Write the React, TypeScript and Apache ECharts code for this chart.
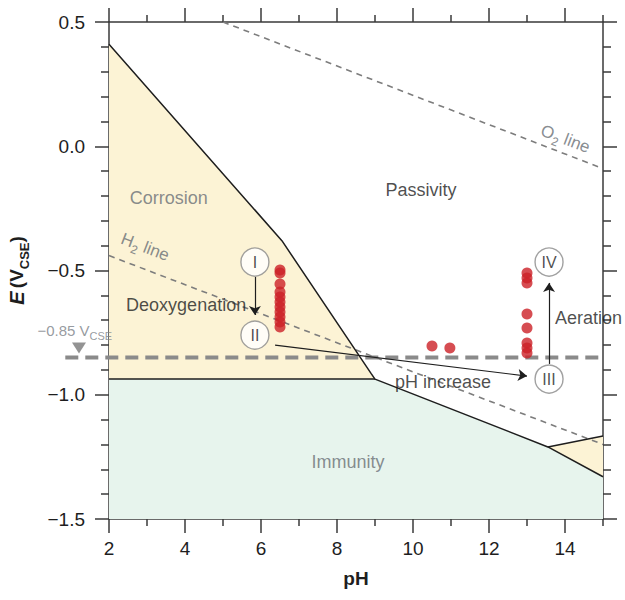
import React, { useEffect, useRef } from 'react';
import * as echarts from 'echarts';

// ---- axis ticks ----
const xMajorTicks = [2, 4, 6, 8, 10, 12, 14];
const xMinorTicks = [3, 5, 7, 9, 11, 13, 15];

// ---- stability regions (pH, E) ----
const corrosionRegion = [[2, 0.41], [6.55, -0.38], [8.9, -0.915], [9.0, -0.937], [2, -0.937]];
const immunityRegion = [[2, -0.937], [9.0, -0.937], [13.55, -1.21], [15, -1.33], [15, -1.5], [2, -1.5]];
const alkalineCorrosionRegion = [[13.55, -1.21], [15, -1.166], [15, -1.33]];

// ---- boundary lines ----
const boundaryLine = [[2, 0.41], [6.55, -0.38], [8.9, -0.915], [9.0, -0.937], [13.55, -1.21], [15, -1.33]];
const immunityTopLine = [[2, -0.937], [9.0, -0.937]];
const alkalineLine = [[13.55, -1.21], [15, -1.166]];

// ---- water lines ----
const o2Line = [[5.0, 0.5], [15, -0.09]];
const h2Line = [[2, -0.44], [15, -1.2]];

// ---- protection criterion ----
const protectionLine = [[0.85, -0.85], [15, -0.85]];
const protectionMarker = [[1.21, -0.812]];

// ---- measured points ----
const dotsAtPH65 = [-0.498, -0.51, -0.554, -0.587, -0.607, -0.627, -0.647, -0.667, -0.687, -0.707, -0.727];
const dotsAtPH13 = [-0.51, -0.53, -0.55, -0.675, -0.731, -0.792, -0.812, -0.832];
const dotsMid = [[10.5, -0.804], [10.97, -0.812]];

// ---- states ----
const stateNames = ['I', 'II', 'III', 'IV'];
const statePH = [5.84, 5.84, 13.58, 13.58];
const stateE = [-0.466, -0.76, -0.937, -0.466];

// ---- transitions ----
const arrowPaths = [
  [[5.84, -0.526], [5.84, -0.679]],
  [[6.37, -0.8], [13.0, -0.925]],
  [[13.58, -0.876], [13.58, -0.55]],
];

// ---- annotations ----
const darkLabels = ['Passivity', 'Deoxygenation', 'Aeration', 'pH increase'];
const darkLabelPH = [10.21, 4.03, 14.62, 10.79];
const darkLabelE = [-0.176, -0.639, -0.691, -0.949];
const greyLabels = ['Corrosion', 'Immunity'];
const greyLabelPH = [3.57, 8.29];
const greyLabelE = [-0.208, -1.271];

const FONT = 'Liberation Sans, Arial, Helvetica, sans-serif';
const AXIS = '#3a3a3a';
const GREY_TEXT = '#6a6f75';
const DARK_TEXT = '#1e1e1e';
const YELLOW = '#fcf3d5';
const GREEN = '#e7f4ed';

function polygonSeries(region: number[][], fill: string) {
  return {
    type: 'custom',
    coordinateSystem: 'cartesian2d',
    xAxisIndex: 0,
    yAxisIndex: 0,
    silent: true,
    z: 1,
    data: [region[0]],
    renderItem: (_p: any, api: any) => ({
      type: 'polygon',
      shape: { points: region.map((pt) => api.coord(pt)) },
      style: { fill },
    }),
  };
}

function solidLine(data: number[][]) {
  return {
    type: 'line',
    data,
    symbol: 'none',
    silent: true,
    z: 4,
    lineStyle: { color: '#1e1e1e', width: 1.5 },
  };
}

function textSeries(texts: string[], ph: number[], e: number[], color: string) {
  return {
    type: 'scatter',
    silent: true,
    z: 6,
    symbolSize: 1,
    itemStyle: { color: 'rgba(0,0,0,0)' },
    data: texts.map((t, i) => ({ value: [ph[i], e[i]], name: t })),
    label: {
      show: true,
      position: 'inside',
      formatter: (p: any) => p.name,
      color,
      fontSize: 18,
      fontFamily: FONT,
    },
  };
}

function rotatedLabel(formatter: string, ph: number, e: number) {
  return {
    type: 'scatter',
    silent: true,
    z: 6,
    symbolSize: 1,
    itemStyle: { color: 'rgba(0,0,0,0)' },
    data: [[ph, e]],
    label: {
      show: true,
      position: 'inside',
      rotate: -21,
      formatter,
      rich: {
        n: { fontSize: 17, color: GREY_TEXT, fontFamily: FONT, lineHeight: 20, verticalAlign: 'top' },
        s: { fontSize: 12, color: GREY_TEXT, fontFamily: FONT, lineHeight: 30 },
      },
    },
  };
}

const fmtY = (v: number) => {
  const s = Math.abs(v).toFixed(1);
  return v < 0 ? '\u2212' + s : s;
};

export default function App() {
  const ref = useRef<HTMLDivElement>(null);
  useEffect(() => {
    document.body.style.margin = '0';
    if (!ref.current) return;
    const chart = echarts.init(ref.current, undefined, { renderer: 'svg' });

    const tickStyle = { color: AXIS, width: 1.5 };
    const baseX = {
      type: 'value',
      min: 2,
      max: 15,
      interval: 1,
      splitLine: { show: false },
      axisLabel: { show: false },
    };
    const baseY = {
      type: 'value',
      min: -1.5,
      max: 0.5,
      interval: 0.5,
      splitLine: { show: false },
      minorSplitLine: { show: false },
      axisLine: { show: true, onZero: false, lineStyle: tickStyle },
      axisTick: { show: true, length: 14, lineStyle: tickStyle },
      minorTick: { show: true, splitNumber: 5, length: 8, lineStyle: tickStyle },
    };

    const option: any = {
      animation: false,
      grid: { left: 109, right: 22, top: 22, bottom: 81, outerBoundsMode: 'none', containLabel: false },
      xAxis: [
        {
          ...baseX,
          position: 'bottom',
          axisLine: { show: true, onZero: false, lineStyle: tickStyle },
          axisTick: { show: true, length: 14, customValues: xMajorTicks, lineStyle: tickStyle },
          axisLabel: {
            show: true,
            customValues: xMajorTicks,
            color: DARK_TEXT,
            fontSize: 19,
            fontFamily: FONT,
            margin: 20,
          },
          name: 'pH',
          nameLocation: 'middle',
          nameGap: 50,
          nameTextStyle: { fontWeight: 'bold', fontSize: 19, color: DARK_TEXT, fontFamily: FONT },
        },
        {
          ...baseX,
          position: 'bottom',
          axisLine: { show: false, onZero: false },
          axisTick: { show: true, length: 7, customValues: xMinorTicks, lineStyle: tickStyle },
        },
        {
          ...baseX,
          position: 'top',
          axisLine: { show: true, onZero: false, lineStyle: tickStyle },
          axisTick: { show: true, length: 14, customValues: xMajorTicks, lineStyle: tickStyle },
        },
        {
          ...baseX,
          position: 'top',
          axisLine: { show: false, onZero: false },
          axisTick: { show: true, length: 7, customValues: xMinorTicks, lineStyle: tickStyle },
        },
      ],
      yAxis: [
        {
          ...baseY,
          position: 'left',
          axisLabel: {
            show: true,
            formatter: fmtY,
            color: DARK_TEXT,
            fontSize: 19,
            fontFamily: FONT,
            margin: 24,
          },
          name: '{i|E} {b|(V}{s|CSE}{b|)}',
          nameLocation: 'middle',
          nameGap: 68,
          nameRotate: 90,
          nameTextStyle: {
            rich: {
              i: { fontStyle: 'italic', fontWeight: 'bold', fontSize: 20, color: DARK_TEXT, fontFamily: FONT, lineHeight: 22, verticalAlign: 'top' },
              b: { fontWeight: 'bold', fontSize: 19, color: DARK_TEXT, fontFamily: FONT, lineHeight: 22, verticalAlign: 'top' },
              s: { fontWeight: 'bold', fontSize: 13, color: DARK_TEXT, fontFamily: FONT, lineHeight: 34 },
            },
          },
        },
        {
          ...baseY,
          position: 'right',
          axisLabel: { show: false },
        },
      ],
      series: [
        polygonSeries(corrosionRegion, YELLOW),
        polygonSeries(immunityRegion, GREEN),
        polygonSeries(alkalineCorrosionRegion, YELLOW),
        {
          type: 'line',
          data: o2Line,
          symbol: 'none',
          silent: true,
          z: 3,
          lineStyle: { color: '#7d7d7d', width: 1.6, type: [6, 5] },
        },
        {
          type: 'line',
          data: h2Line,
          symbol: 'none',
          silent: true,
          z: 3,
          lineStyle: { color: '#7d7d7d', width: 1.6, type: [6, 5] },
        },
        solidLine(boundaryLine),
        solidLine(immunityTopLine),
        solidLine(alkalineLine),
        {
          type: 'custom',
          coordinateSystem: 'cartesian2d',
          silent: true,
          clip: false,
          z: 5,
          data: [protectionLine[0]],
          renderItem: (_p: any, api: any) => {
            const a = api.coord(protectionLine[0]);
            const b = api.coord(protectionLine[1]);
            return {
              type: 'line',
              shape: { x1: a[0], y1: a[1], x2: b[0], y2: b[1] },
              style: { stroke: '#8a8a8a', lineWidth: 4, lineDash: [13, 7] },
            };
          },
        },
        {
          type: 'scatter',
          data: protectionMarker,
          clip: false,
          silent: true,
          z: 6,
          symbol: 'triangle',
          symbolRotate: 180,
          symbolSize: [14, 11],
          itemStyle: { color: '#787878' },
        },
        {
          type: 'scatter',
          data: [[1.1, -0.762]],
          clip: false,
          silent: true,
          z: 6,
          symbolSize: 1,
          itemStyle: { color: 'rgba(0,0,0,0)' },
          label: {
            show: true,
            position: 'inside',
            formatter: '{n|\u22120.85 V}{s|CSE}',
            rich: {
              n: { fontSize: 15, color: '#7c8187', fontFamily: FONT, lineHeight: 17, verticalAlign: 'top' },
              s: { fontSize: 11, color: '#7c8187', fontFamily: FONT, lineHeight: 25 },
            },
          },
        },
        {
          type: 'lines',
          coordinateSystem: 'cartesian2d',
          silent: true,
          z: 6,
          symbol: ['none', 'arrow'],
          symbolSize: 9,
          lineStyle: { color: '#1e1e1e', width: 1.2, opacity: 1 },
          data: arrowPaths.map((c) => ({ coords: c })),
        },
        {
          type: 'scatter',
          silent: true,
          z: 7,
          symbolSize: 11,
          itemStyle: { color: '#cc2027' },
          data: [
            ...dotsAtPH65.map((e) => [6.5, e]),
            ...dotsAtPH13.map((e) => [13.0, e]),
            ...dotsMid,
          ],
        },
        {
          type: 'scatter',
          silent: true,
          z: 8,
          symbolSize: 28,
          itemStyle: { color: '#ffffff', borderColor: '#8a8a8a', borderWidth: 1.4 },
          data: stateNames.map((n, i) => ({ value: [statePH[i], stateE[i]], name: n })),
          label: {
            show: true,
            position: 'inside',
            formatter: (p: any) => p.name,
            color: DARK_TEXT,
            fontSize: 16,
            fontFamily: FONT,
          },
        },
        textSeries(darkLabels, darkLabelPH, darkLabelE, DARK_TEXT),
        textSeries(greyLabels, greyLabelPH, greyLabelE, GREY_TEXT),
        rotatedLabel('{n|O}{s|2}{n| line}', 13.95, 0.005),
        rotatedLabel('{n|H}{s|2}{n| line}', 2.89, -0.43),
      ],
    };
    chart.setOption(option);
    return () => chart.dispose();
  }, []);
  return <div ref={ref} style={{ width: 625, height: 600 }} />;
}
